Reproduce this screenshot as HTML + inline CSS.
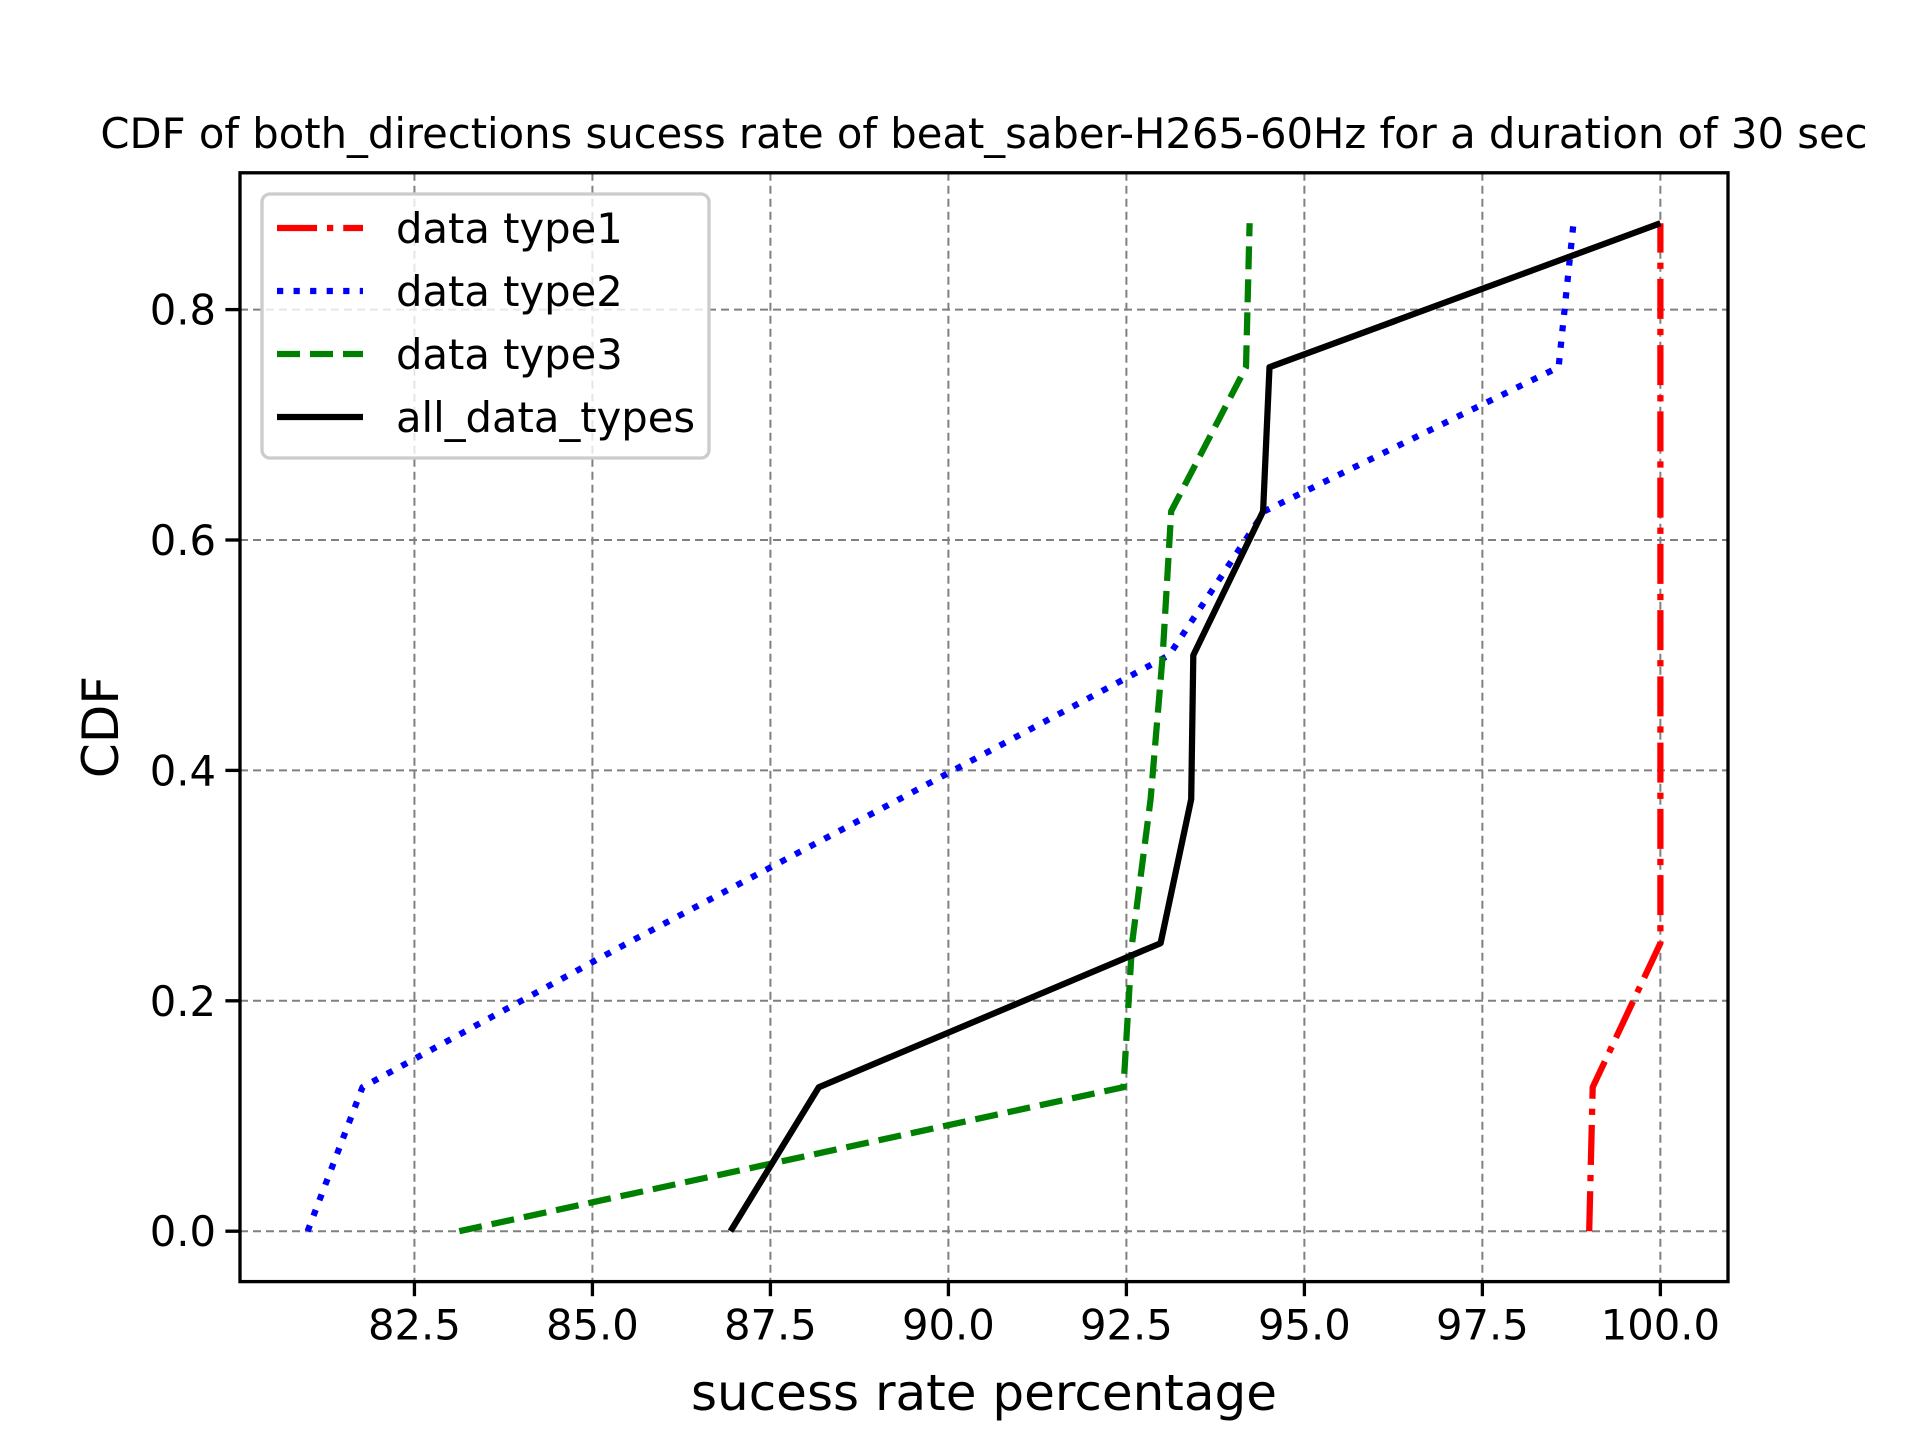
<!DOCTYPE html>
<html><head><meta charset="utf-8"><style>
html,body{margin:0;padding:0;background:#fff;}
svg{display:block;font-family:"DejaVu Sans","Liberation Sans",sans-serif;}
</style></head><body>
<svg id="chart" width="1920" height="1440" viewBox="0 0 1920 1440" xmlns="http://www.w3.org/2000/svg">
<rect width="1920" height="1440" fill="#fff"/>
<g id="grid"></g>
<g id="series"></g>
<rect x="240" y="172.8" width="1488" height="1108.8" fill="none" stroke="#000" stroke-width="3.33"/>
<g id="ticks"></g>
<text x="984" y="148" font-size="41.7" text-anchor="middle">CDF of both_directions sucess rate of beat_saber-H265-60Hz for a duration of 30 sec</text>
<text x="984" y="1410" font-size="50" text-anchor="middle">sucess rate percentage</text>
<text transform="translate(118,727) rotate(-90)" font-size="50" text-anchor="middle">CDF</text>
<g id="legend"></g>
</svg>
<script>
const cdfLevels = [0, 0.125, 0.25, 0.375, 0.5, 0.625, 0.75, 0.875];
const type1 = [99.0, 99.05, 100, 100, 100, 100, 100, 100];
const type2 = [81.0, 81.77, 85.49, 89.31, 93.1, 94.44, 98.57, 98.78];
const type3 = [83.13, 92.46, 92.58, 92.84, 93.01, 93.13, 94.18, 94.23];
const allTypes = [86.94, 88.18, 92.98, 93.41, 93.44, 94.42, 94.51, 100];
const xTicks = [82.5, 85.0, 87.5, 90.0, 92.5, 95.0, 97.5, 100.0];
const yTicks = [0.0, 0.2, 0.4, 0.6, 0.8];
const seriesNames = ["data type1", "data type2", "data type3", "all_data_types"];

const NS = "http://www.w3.org/2000/svg";
const L = 240, R = 1728, T = 172.8, B = 1281.6;
const xs = [type1, type2, type3, allTypes].flat();
const xmin0 = Math.min(...xs), xmax0 = Math.max(...xs);
const xmn = xmin0 - 0.05 * (xmax0 - xmin0), xmx = xmax0 + 0.05 * (xmax0 - xmin0);
const ymn0 = Math.min(...cdfLevels), ymx0 = Math.max(...cdfLevels);
const ymn = ymn0 - 0.05 * (ymx0 - ymn0), ymx = ymx0 + 0.05 * (ymx0 - ymn0);
const X = v => L + (v - xmn) / (xmx - xmn) * (R - L);
const Y = v => B - (v - ymn) / (ymx - ymn) * (B - T);
function mk(tag, attrs, parent) {
  const e = document.createElementNS(NS, tag);
  for (const k in attrs) e.setAttribute(k, attrs[k]);
  parent.appendChild(e);
  return e;
}
const grid = document.getElementById('grid');
const ticks = document.getElementById('ticks');
xTicks.forEach(t => {
  const g = mk('line', {x1: X(t), x2: X(t), y1: T, y2: B, stroke: '#808080', 'stroke-width': 2, 'stroke-dasharray': '8,5'}, grid);
  
  
  const tk = mk('line', {x1: X(t), x2: X(t), y1: B, y2: B + 14.6, stroke: '#000', 'stroke-width': 3.33}, ticks);
  
  
  const lb = mk('text', {x: X(t), y: B + 58, 'font-size': 41.7, 'text-anchor': 'middle'}, ticks);
  lb.textContent = t.toFixed(1);
  
  
});
yTicks.forEach(t => {
  const g = mk('line', {x1: L, x2: R, y1: Y(t), y2: Y(t), stroke: '#808080', 'stroke-width': 2, 'stroke-dasharray': '8,5'}, grid);
  
  
  const tk = mk('line', {x1: L - 14.6, x2: L, y1: Y(t), y2: Y(t), stroke: '#000', 'stroke-width': 3.33}, ticks);
  
  
  const lb = mk('text', {x: L - 24, y: Y(t) + 15, 'font-size': 41.7, 'text-anchor': 'end'}, ticks);
  lb.textContent = t.toFixed(1);
  
  
});
const styles = [
  {c: '#ff0000', d: '40,10,6.25,10'},
  {c: '#0000ff', d: '6.25,10.3'},
  {c: '#008000', d: '23,10'},
  {c: '#000000', d: ''}
];
const seriesG = document.getElementById('series');
[type1, type2, type3, allTypes].forEach((arr, i) => {
  const pts = arr.map((v, j) => X(v).toFixed(1) + ',' + Y(cdfLevels[j]).toFixed(1)).join(' ');
  const p = mk('polyline', {points: pts, fill: 'none', stroke: styles[i].c, 'stroke-width': 6.25, 'stroke-dasharray': styles[i].d, 'stroke-linejoin': 'round'}, seriesG);
  
  
});
const leg = document.getElementById('legend');
const box = mk('rect', {x: 262, y: 194, width: 447, height: 264, rx: 8, fill: 'rgba(255,255,255,0.8)', stroke: '#cccccc', 'stroke-width': 3.33}, leg);


seriesNames.forEach((n, i) => {
  const cy = 228 + i * 63;
  const ln = mk('line', {x1: 277, x2: 363, y1: cy, y2: cy, stroke: styles[i].c, 'stroke-width': 6.25, 'stroke-dasharray': styles[i].d}, leg);
  
  
  const tx = mk('text', {x: 396, y: cy + 15, 'font-size': 41.7}, leg);
  tx.textContent = n;
  
  
});
</script>
</body></html>
